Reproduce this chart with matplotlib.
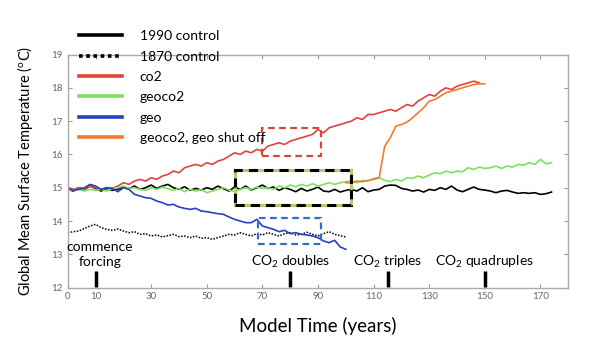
import matplotlib
matplotlib.use("Agg")
import matplotlib.pyplot as plt
import numpy as np
from matplotlib.patches import Rectangle

plt.rcParams["font.family"] = ["Lato", "DejaVu Sans"]
plt.rcParams["mathtext.fontset"] = "custom"
plt.rcParams["mathtext.rm"] = "Lato"
plt.rcParams["mathtext.it"] = "Lato:italic"

# series values, one value every 2 model years
control_1990 = [14.95, 14.9, 15.0, 14.95, 15.05, 14.98, 14.9, 14.98, 14.92, 14.95,
                15.02, 14.97, 15.05, 14.95, 15.0, 15.08, 14.98, 15.05, 15.1, 15.0,
                14.95, 15.03, 14.92, 14.98, 14.93, 15.0, 14.95, 15.05, 14.97, 14.9,
                15.02, 14.95, 15.05, 14.93, 15.0, 15.08, 14.98, 15.02, 14.92, 15.0,
                14.95, 14.88, 14.98, 14.9, 14.95, 15.02, 14.9, 14.88, 14.95, 14.87,
                14.92, 14.95, 14.9, 15.0, 14.88, 14.93, 14.95, 15.05, 15.08, 15.07,
                14.98, 14.95, 14.9, 14.93, 14.87, 14.95, 14.92, 15.0, 14.95, 15.05,
                14.93, 14.88, 14.95, 15.02, 14.95, 14.93, 14.9, 14.85, 14.9, 14.92,
                14.87, 14.83, 14.85, 14.83, 14.85, 14.8, 14.82, 14.87]
control_1870 = [13.65, 13.68, 13.7, 13.78, 13.85, 13.9, 13.8, 13.75, 13.72, 13.76,
                13.7, 13.65, 13.68, 13.6, 13.62, 13.55, 13.58, 13.52, 13.56, 13.6,
                13.53, 13.55, 13.5, 13.55, 13.48, 13.5, 13.45, 13.5, 13.55, 13.6,
                13.58, 13.65, 13.6, 13.55, 13.62, 13.58, 13.65, 13.6, 13.55, 13.62,
                13.65, 13.58, 13.6, 13.66, 13.6, 13.55, 13.62, 13.68, 13.6, 13.56,
                13.52]
co2 = [15.0, 14.95, 15.0, 14.95, 15.05, 15.0, 14.95, 15.0, 14.98, 15.05,
       15.15, 15.1, 15.2, 15.25, 15.2, 15.3, 15.25, 15.35, 15.4, 15.5,
       15.45, 15.6, 15.65, 15.7, 15.65, 15.75, 15.7, 15.8, 15.85, 15.95,
       16.05, 16.0, 16.1, 16.05, 16.15, 16.1, 16.25, 16.3, 16.35, 16.3,
       16.4, 16.45, 16.5, 16.55, 16.6, 16.75, 16.65, 16.8, 16.85, 16.9,
       16.95, 17.0, 17.1, 17.05, 17.2, 17.2, 17.25, 17.3, 17.35, 17.3,
       17.4, 17.5, 17.45, 17.6, 17.7, 17.8, 17.75, 17.9, 18.0, 17.95,
       18.05, 18.1, 18.15, 18.2, 18.15]
geoco2 = [14.95, 14.92, 14.95, 14.9, 14.95, 14.92, 14.95, 14.9, 14.98, 15.0,
          15.05, 14.98, 15.0, 14.95, 14.92, 15.0, 14.95, 15.02, 14.97, 14.92,
          14.98, 14.88, 14.95, 14.9, 14.95, 14.85, 14.9, 14.95, 15.0, 14.93,
          14.88, 14.95, 15.0, 14.95, 15.02, 14.98, 15.0, 14.95, 15.05, 15.0,
          15.08, 15.03, 15.1, 15.05, 15.12, 15.05, 15.1, 15.15, 15.1, 15.15,
          15.18, 15.2, 15.15, 15.22, 15.2, 15.28, 15.3, 15.22, 15.18, 15.25,
          15.2, 15.3, 15.28, 15.35, 15.3, 15.38, 15.45, 15.42, 15.5, 15.45,
          15.5, 15.48, 15.6, 15.55, 15.62, 15.58, 15.6, 15.65, 15.58, 15.65,
          15.62, 15.7, 15.68, 15.75, 15.7, 15.85, 15.72, 15.75]
geo = [15.0, 14.92, 14.95, 15.0, 15.1, 15.05, 14.95, 15.0, 14.98, 14.88,
       15.0, 14.95, 14.8, 14.75, 14.7, 14.68, 14.6, 14.55, 14.48, 14.5,
       14.42, 14.38, 14.35, 14.38, 14.3, 14.28, 14.25, 14.22, 14.2, 14.12,
       14.05, 14.0, 13.95, 13.95, 14.05, 13.85, 13.8, 13.75, 13.68, 13.72,
       13.62, 13.65, 13.6, 13.58, 13.55, 13.5, 13.4, 13.35, 13.42, 13.22,
       13.15]
geo_shutoff = [15.15, 15.15, 15.2, 15.18, 15.22, 15.25, 15.3, 16.25, 16.5, 16.85,
               16.9, 16.97, 17.1, 17.25, 17.4, 17.6, 17.65, 17.75, 17.85, 17.9,
               17.95, 18.0, 18.05, 18.1, 18.12, 18.12]
shutoff_start = 100

# highlighted windows: (x0, x1, y0, y1, colour)
boxes = [(70, 91, 15.95, 16.8, "#d8453a"),
         (68.5, 91, 13.3, 14.1, "#2f6fc4")]
green_box = (60, 102, 14.48, 15.52)

events = [(10, "commence\nforcing", 11.5), (80, "CO$_2$ doubles", 80),
          (115, "CO$_2$ triples", 115), (150, "CO$_2$ quadruples", 150)]


def years(vals, start=0):
    return start + 2 * np.arange(len(vals))


fig = plt.figure(figsize=(6, 3.52), dpi=100)
ax = fig.add_axes([0.113, 0.183, 0.834, 0.662])

lw = 1.2
ax.plot(years(control_1990), control_1990, color="black", lw=lw, label="1990 control")
ax.plot(years(control_1870), control_1870, color="black", lw=1.1, ls=(0, (1, 1)),
        label="1870 control")
ax.plot(years(co2), co2, color="#e2423a", lw=lw, label="co2")
ax.plot(years(geoco2), geoco2, color="#7fe05e", lw=lw, label="geoco2")
ax.plot(years(geo), geo, color="#2b3fc0", lw=lw, label="geo")
ax.plot(years(geo_shutoff, shutoff_start), geo_shutoff, color="#f07b30", lw=lw,
        label="geoco2, geo shut off")

for x0, x1, y0, y1, c in boxes:
    ax.add_patch(Rectangle((x0, y0), x1 - x0, y1 - y0, fill=False, ec=c,
                           lw=1.6, ls=(0, (3, 2)), zorder=5))
gx0, gx1, gy0, gy1 = green_box
ax.add_patch(Rectangle((gx0, gy0), gx1 - gx0, gy1 - gy0, fill=False, ec="#b6c96c",
                       lw=2.2, zorder=5))
ax.add_patch(Rectangle((gx0, gy0), gx1 - gx0, gy1 - gy0, fill=False, ec="black",
                       lw=2.2, ls=(0, (3, 2)), zorder=6))

for xt, label, xl in events:
    ax.plot([xt, xt], [12.03, 12.5], color="black", lw=2.5, solid_capstyle="butt")
    if "\n" in label:
        ax.text(xl, 13.0, label, ha="center", va="center", fontsize=10,
                linespacing=1.25)
    else:
        ax.text(xl, 12.77, label, ha="center", va="center", fontsize=10)

ax.set_xlim(0, 180)
ax.set_ylim(12, 19)
ax.set_xticks([0, 10, 30, 50, 70, 90, 110, 130, 150, 170])
ax.set_yticks(range(12, 20))
ax.tick_params(direction="in", length=3, width=0.8, colors="#999999",
               labelcolor="#666666", labelsize=7, top=True, right=True)
for s in ax.spines.values():
    s.set_color("#aaaaaa")
    s.set_linewidth(1.0)

ax.set_xlabel("Model Time (years)", fontsize=13.5, labelpad=11)
ax.set_ylabel("Global Mean Surface Temperature ($^{\\rm o}$C)", fontsize=10.5,
              labelpad=12)

leg = fig.legend(loc="upper left", bbox_to_anchor=(0.122, 0.93), frameon=False,
                 fontsize=10, handlelength=3.1, handletextpad=1.3,
                 labelspacing=0.6, borderaxespad=0)
for ln in leg.get_lines():
    ln.set_linewidth(2.6)

fig.savefig("out.png", dpi=100, facecolor="white")
